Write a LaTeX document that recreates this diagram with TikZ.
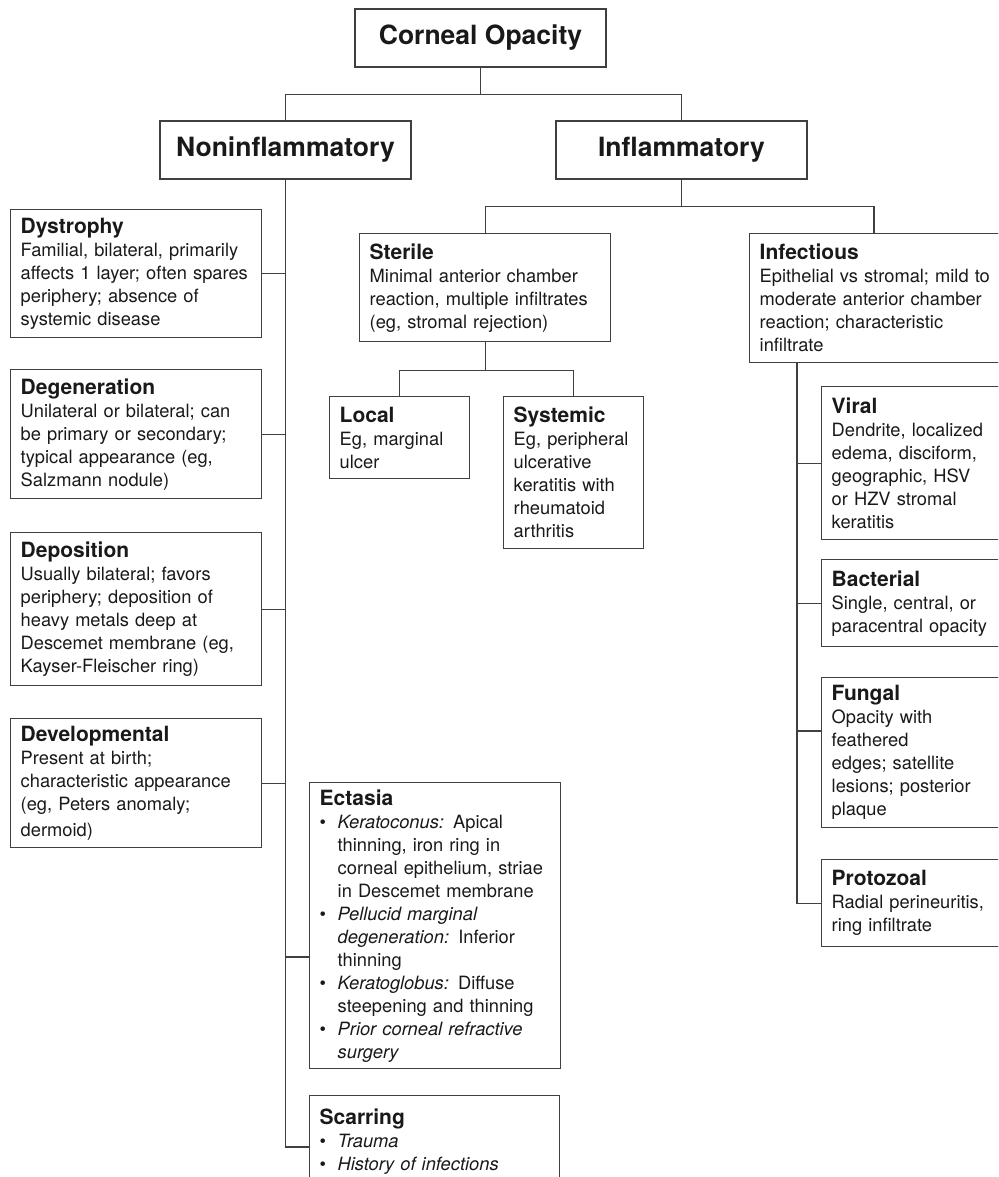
\documentclass[tikz,border=0pt]{standalone}
\usepackage{fontspec}
\setmainfont{TeX Gyre Heros}
\usetikzlibrary{calc}

\newcommand\bodyfont{\fontsize{18.3}{23}\selectfont}
\newcommand\titlefont{\fontsize{26.5}{30}\selectfont\bfseries}
\newcommand\hd[1]{{\fontsize{21}{23}\selectfont\bfseries #1}}
\newcommand\bul{\makebox[18pt][l]{\textbullet}}
\newcommand\ind{\hspace*{18pt}}

\tikzset{
  box/.style={draw=black!75, line width=1.4pt, anchor=north west, inner xsep=10pt, inner ysep=0pt, align=left, font=\bodyfont, text=black!90},
  title/.style={draw=black!75, line width=1.4pt, minimum width=251pt, minimum height=58pt, inner sep=0pt, font=\titlefont, text=black!90},
  link/.style={draw=black!75, line width=1.4pt}
}

\begin{document}
\begin{tikzpicture}[x=1pt, y=-1pt]
\clip (0,0) rectangle (998,1177);

\node[title] (corneal) at (480.5,38) {Corneal Opacity};
\node[title] (noninf) at (285.5,150) {Noninflammatory};
\node[title] (inflam) at (681.5,150) {Inflammatory};

\node[box, text width=231pt, minimum height=128pt] (dystrophy) at (10,209) {\hd{Dystrophy}\\
  Familial, bilateral, primarily\\ affects 1 layer; often spares\\ periphery; absence of\\ systemic disease};
\node[box, text width=231pt, minimum height=129pt] (degeneration) at (10,369) {\hd{Degeneration}\\
  Unilateral or bilateral; can\\ be primary or secondary;\\ typical appearance (eg,\\ Salzmann nodule)};
\node[box, text width=231pt, minimum height=153pt] (deposition) at (10,532) {\hd{Deposition}\\
  Usually bilateral; favors\\ periphery; deposition of\\ heavy metals deep at\\ Descemet membrane (eg,\\ Kayser-Fleischer ring)};
\node[box, text width=231pt, minimum height=129pt] (developmental) at (10,718) {\hd{Developmental}\\
  Present at birth;\\ characteristic appearance\\ (eg, Peters anomaly;\\[3pt] dermoid)};

\node[box, text width=231pt, minimum height=286pt] (ectasia) at (309,782) {\hd{Ectasia}\\
  \bul\textit{Keratoconus:} Apical\\
  \ind thinning, iron ring in\\
  \ind corneal epithelium, striae\\
  \ind in Descemet membrane\\
  \bul\textit{Pellucid marginal}\\
  \ind\textit{degeneration:} Inferior\\
  \ind thinning\\
  \bul\textit{Keratoglobus:} Diffuse\\
  \ind steepening and thinning\\
  \bul\textit{Prior corneal refractive}\\
  \ind\textit{surgery}};
\node[box, text width=230pt, minimum height=92pt] (scarring) at (309,1095) {\hd{Scarring}\\
  \bul\textit{Trauma}\\
  \bul\textit{History of infections}};

\node[box, text width=231pt, minimum height=108pt] (sterile) at (359,233) {\hd{Sterile}\\
  Minimal anterior chamber\\ reaction, multiple infiltrates\\ (eg, stromal rejection)};
\node[box, text width=251pt, minimum height=129pt] (infectious) at (749,233) {\hd{Infectious}\\
  Epithelial vs stromal; mild to\\ moderate anterior chamber\\ reaction; characteristic\\ infiltrate};

\node[box, text width=120pt, minimum height=82pt] (local) at (329,396) {\hd{Local}\\
  Eg, marginal\\ ulcer};
\node[box, text width=120pt, minimum height=152pt] (systemic) at (503,396) {\hd{Systemic}\\
  Eg, peripheral\\ ulcerative\\ keratitis with\\ rheumatoid\\ arthritis};

\node[box, text width=179pt, minimum height=153pt] (viral) at (821,386) {\hd{Viral}\\
  Dendrite, localized\\ edema, disciform,\\ geographic, HSV\\ or HZV stromal\\ keratitis};
\node[box, text width=179pt, minimum height=87pt] (bacterial) at (821,559) {\hd{Bacterial}\\
  Single, central, or\\ paracentral opacity};
\node[box, text width=179pt, minimum height=150pt] (fungal) at (821,677) {\hd{Fungal}\\
  Opacity with\\ feathered\\ edges; satellite\\ lesions; posterior\\ plaque};
\node[box, text width=179pt, minimum height=87pt] (protozoal) at (821,859) {\hd{Protozoal}\\
  Radial perineuritis,\\ ring infiltrate};

\draw[link] (corneal.south) -- ++(0,27) coordinate (j1);
\draw[link] (noninf.north) |- (j1) -| (inflam.north);

\coordinate (scar) at ($(scarring.north west)+(0,52)$);
\draw[link] (noninf.south) |- (scar);
\foreach \b in {dystrophy,degeneration,deposition,developmental}
  \draw[link] (\b.east) -- (\b.east -| noninf.south);
\coordinate (ect) at ($(ectasia.north west)+(0,175)$);
\draw[link] (ect) -- (ect -| noninf.south);

\draw[link] (inflam.south) -- ++(0,27) coordinate (j2);
\coordinate (inftop) at ($(infectious.north west)+(125,0)$);
\draw[link] (sterile.north) |- (j2) -| (inftop);

\draw[link] (sterile.south) -- ++(0,28) coordinate (j3);
\draw[link] (local.north) |- (j3) -| (systemic.north);

\coordinate (infbot) at ($(infectious.south west)+(48,0)$);
\draw[link] (infbot) |- (protozoal.west);
\foreach \b in {viral,bacterial}
  \draw[link] (\b.west) -- (\b.west -| infbot);
\coordinate (fun) at ($(fungal.north west)+(0,54)$);
\draw[link] (fun) -- (fun -| infbot);
\end{tikzpicture}
\end{document}
